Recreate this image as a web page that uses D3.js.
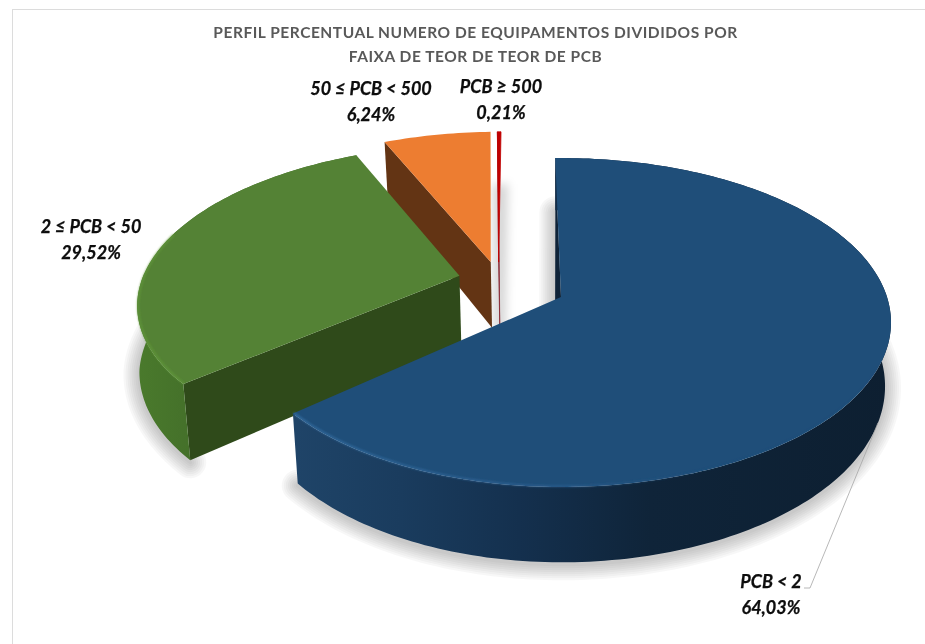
<!DOCTYPE html>
<html>
<head>
<meta charset="utf-8">
<script src="https://cdn.jsdelivr.net/npm/d3@7/dist/d3.min.js"></script>
<style>
html,body{margin:0;padding:0;background:#fff}
svg{display:block;filter:blur(0.4px)}
text{font-family:Lato,"Open Sans",sans-serif}
</style>
</head>
<body>
<svg id="chart" width="925" height="644"></svg>
<script>
// ---- data ----
const categories = ["PCB < 2", "PCB ≥ 500", "50 ≤ PCB < 500", "2 ≤ PCB < 50"];
const values = [64.03, 0.21, 6.24, 29.52];
const percentLabels = ["64,03%", "0,21%", "6,24%", "29,52%"];
const titleLines = ["PERFIL PERCENTUAL NUMERO DE EQUIPAMENTOS DIVIDIDOS POR", "FAIXA DE TEOR DE TEOR DE PCB"];

const drawOrder = ["PCB ≥ 500", "50 ≤ PCB < 500", "2 ≤ PCB < 50", "PCB < 2"];
const clockOrder = ["PCB < 2", "2 ≤ PCB < 50", "50 ≤ PCB < 500", "PCB ≥ 500"];

// ---- styles / layout ----
const topColors = {"PCB < 2":"#1f4e79","2 ≤ PCB < 50":"#548235","50 ≤ PCB < 500":"#ed7d31","PCB ≥ 500":"#c00000"};
const wallColors = {"PCB < 2":"#0f2338","2 ≤ PCB < 50":"#2f4a1a","50 ≤ PCB < 500":"#633414","PCB ≥ 500":"#8a2a35"};
// offset in the pie plane [x, y], depth radius factor, extra wall height, left-side width factor
const explode = {
  "PCB < 2":[0,0,1,0,0.975],
  "2 ≤ PCB < 50":[-0.318,-0.135,0.975,8,0.99],
  "50 ≤ PCB < 500":[-0.223,-0.225,1,6,1],
  "PCB ≥ 500":[-0.198,-0.225,1,4,1]
};
const hasRim = {"PCB < 2":true,"2 ≤ PCB < 50":true,"50 ≤ PCB < 500":false,"PCB ≥ 500":false};
const labelPos = {"PCB < 2":[771,582],"2 ≤ PCB < 50":[91,227],"50 ≤ PCB < 500":[371,89],"PCB ≥ 500":[501,87]};
const shadowWidths = [4,8,12,16,20,24,28,32];

const persp = 0.155, cx = 561, rimRadius = 326;
const topY = d3.scaleLinear().domain([0,1]).range([297,297+160.5]);
const botY = d3.scaleLinear().domain([0,1]).range([359,359+171.8]);
const botShrink = 0.982;
const rotation = -1.2 * Math.PI/180;
// the green rim narrows toward the far left: base shift by screen height of the top edge
const greenBaseShift = d3.scaleLinear().domain([300,385]).range([2,7]).clamp(true);

function project(X, Y, bottom, extra){
  const k = 1/(1 - persp*Y);
  const x = cx + rimRadius*X*k*(bottom ? botShrink : 1);
  const y = (bottom ? botY(Y*k) + extra : topY(Y*k));
  return [x, y];
}
function pt(angle, r, off, bottom){
  let sx = Math.sin(angle);
  if(sx < 0) sx *= off[4];
  return project(off[0] + r*sx, off[1] - r*off[2]*Math.cos(angle), bottom, off[3]);
}
function sample(a0, a1){
  const n = Math.max(2, Math.ceil(Math.abs(a1-a0)/0.02));
  return d3.range(n+1).map(i => a0 + (a1-a0)*i/n);
}

const svg = d3.select("#chart");
const defs = svg.append("defs");

const blur = defs.append("filter").attr("id","shadowBlur").attr("filterUnits","userSpaceOnUse")
  .attr("x",0).attr("y",0).attr("width",925).attr("height",644);
blur.append("feGaussianBlur").attr("stdDeviation",5);
defs.append("filter").attr("id","soft").append("feGaussianBlur").attr("stdDeviation",0.9);

function gradient(id, stops){
  const g = defs.append("linearGradient").attr("id",id).attr("gradientUnits","userSpaceOnUse")
    .attr("x1",293).attr("x2",889).attr("y1",0).attr("y2",0);
  stops.forEach(s => g.append("stop").attr("offset",s[0]).attr("stop-color",s[1]).attr("stop-opacity",s[2]===undefined?1:s[2]));
}
gradient("blueRim", [[0,"#1f4468"],[0.18,"#1a3c5e"],[0.38,"#14304e"],[0.6,"#0f2439"],[1,"#0d1f31"]]);
gradient("blueEdge", [[0,"#3a76ad",0.9],[0.45,"#2f6396",0.8],[0.7,"#1f4e79",0.3],[1,"#1f4e79",0]]);
const gg = defs.append("linearGradient").attr("id","greenRim").attr("gradientUnits","userSpaceOnUse").attr("x1",136).attr("x2",192).attr("y1",0).attr("y2",0);
gg.append("stop").attr("offset",0).attr("stop-color","#4a7a2c");
gg.append("stop").attr("offset",1).attr("stop-color","#44702a");

// ---- chart frame ----
const frame = svg.append("g").attr("stroke","#dcdcdc").attr("stroke-width",1);
frame.append("line").attr("x1",12).attr("x2",925).attr("y1",9.5).attr("y2",9.5);
frame.append("line").attr("x1",12.5).attr("x2",12.5).attr("y1",9).attr("y2",644);

// ---- slices ----
const pie = d3.pie().sort((a,b)=>clockOrder.indexOf(a.name)-clockOrder.indexOf(b.name)).value(d=>d.value)
  .startAngle(rotation).endAngle(rotation+2*Math.PI);
const arcs = pie(categories.map((name,i)=>({name,value:values[i],label:percentLabels[i]})));
const byName = new Map(arcs.map(a=>[a.data.name,a]));
const line = d3.line();

drawOrder.forEach(name=>{
  const a = byName.get(name), off = explode[name];
  const thin = name==="PCB ≥ 500", green = name==="2 ≤ PCB < 50", isBlue = name==="PCB < 2";
  const angles = sample(a.startAngle, a.endAngle);
  const topArc = angles.map(t=>pt(t,1,off,false));
  const botArc = angles.map((t,i)=>{
    const p = pt(t,1,off,true);
    return green ? [topArc[i][0] + greenBaseShift(topArc[i][1]), p[1]] : p;
  });
  const apexT = pt(0,0,off,false), apexB = pt(0,0,off,true);
  const wallApex = isBlue ? [apexB[0]-6, apexB[1]] : apexB;
  // soft shadow cast by the base of the slice
  if(thin){
    svg.append("path").attr("fill","none")
      .attr("stroke","#000").attr("stroke-opacity",0.16).attr("stroke-width",12)
      .attr("transform","translate(0,4)").attr("filter","url(#shadowBlur)")
      .attr("d",line([apexB].concat(botArc))+"Z");
  } else if(hasRim[name]){
    const outline = isBlue ? [wallApex].concat(botArc) : botArc;
    svg.append("g").selectAll("path").data(shadowWidths).join("path")
      .attr("fill","none").attr("stroke","#000").attr("stroke-opacity",0.032)
      .attr("stroke-linejoin","round").attr("stroke-linecap","round")
      .attr("stroke-width",d=>d).attr("transform","translate(0,2)")
      .attr("d",line(outline));
  }
  const g = svg.append("g").attr("class","slice");
  // side wall at the start of the slice
  g.append("path").attr("fill",wallColors[name])
    .attr("stroke",thin?wallColors[name]:"none").attr("stroke-width",thin?0.8:0)
    .attr("d",line([topArc[0],apexT,wallApex,botArc[0]])+"Z");
  // rim
  if(hasRim[name]){
    const rimFill = isBlue ? "url(#blueRim)" : "url(#greenRim)";
    g.append("path").attr("fill",rimFill)
      .attr("d",line(topArc.concat(botArc.slice().reverse()))+"Z");
  }
  // top surface
  g.append("path").attr("fill",topColors[name])
    .attr("stroke",thin?topColors[name]:"none").attr("stroke-width",thin?0.8:0)
    .attr("d",line([apexT].concat(topArc))+"Z");
  // bevel highlight
  if(isBlue){
    const front = sample(a.startAngle+1.9, a.endAngle).map(t=>pt(t,0.997,off,false));
    g.append("path").attr("fill","none").attr("stroke","url(#blueEdge)").attr("stroke-width",1.6)
      .attr("filter","url(#soft)").attr("d",line(front));
  }
  if(green){
    const front = sample(a.startAngle, a.startAngle+1.0).map(t=>pt(t,0.997,off,false));
    g.append("path").attr("fill","none").attr("stroke","#629a3a").attr("stroke-width",1.5)
      .attr("filter","url(#soft)").attr("d",line(front));
  }
});

// ---- title ----
const title = svg.append("g").attr("text-anchor","middle").attr("fill","#595959")
  .attr("font-size",15.5).attr("font-weight",700).attr("letter-spacing",0.53);
titleLines.forEach((t,i)=>title.append("text").attr("x",475.5).attr("y",38+i*24).text(t));

// ---- labels ----
const labels = svg.append("g").attr("text-anchor","middle").attr("fill","#0d0d0d")
  .attr("stroke","#0d0d0d").attr("stroke-width",0.25)
  .attr("font-size",18).attr("font-weight",700).attr("font-style","italic");
arcs.forEach(a=>{
  const p = labelPos[a.data.name];
  labels.append("text").attr("x",p[0]).attr("y",p[1]+6).text(a.data.name);
  labels.append("text").attr("x",p[0]).attr("y",p[1]+32).text(a.data.label);
});

// ---- leader line for the largest slice ----
const blue = byName.get("PCB < 2");
const leaderStart = pt(blue.startAngle + 1.95, 1, explode["PCB < 2"], true);
const lp = labelPos["PCB < 2"];
svg.append("path").attr("fill","none").attr("stroke","#a6a6a6").attr("stroke-width",0.8)
  .attr("d",line([leaderStart,[lp[0]+39,lp[1]+6],[lp[0]+33,lp[1]+6]]));
</script>
</body>
</html>
